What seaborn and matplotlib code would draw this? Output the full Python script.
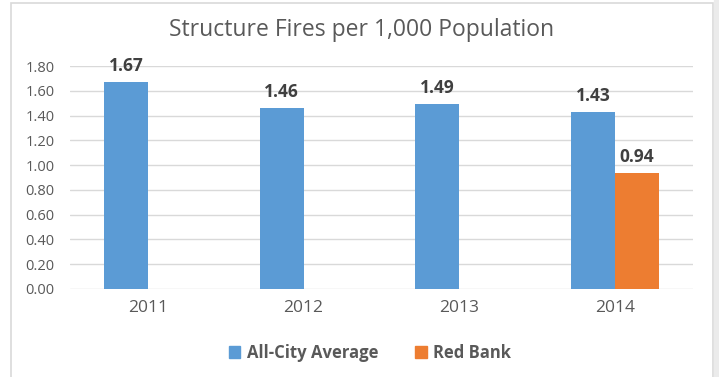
import matplotlib
matplotlib.use('Agg')
import matplotlib.pyplot as plt
import pandas as pd
import seaborn as sns
from matplotlib.patches import Rectangle

years = ['2011', '2012', '2013', '2014']
all_city = [1.67, 1.46, 1.49, 1.43]
red_bank = [None, None, None, 0.94]
series = ['All-City Average', 'Red Bank']
colors = ['#5B9BD5', '#ED7D31']

rows = []
for i, y in enumerate(years):
    rows.append({'year': y, 'series': series[0], 'value': all_city[i]})
    if red_bank[i] is not None:
        rows.append({'year': y, 'series': series[1], 'value': red_bank[i]})
df = pd.DataFrame(rows)

sns.set_style('white')
plt.rcParams['font.family'] = ['Open Sans', 'DejaVu Sans']

fig = plt.figure(figsize=(7.19, 3.77), dpi=100)
# chart frame
fig.patches.append(Rectangle((11 / 719, -0.05), 702 / 719, 1 - 3 / 377 + 0.05,
                             transform=fig.transFigure, fill=False,
                             edgecolor='#D9D9D9', linewidth=1.2))
fig.patches.append(Rectangle((714 / 719, 0), 5 / 719, 1,
                             transform=fig.transFigure, color='#EBEBEB'))

ax = fig.add_axes([70 / 719, 1 - 289 / 377, 623 / 719, 223 / 377])
sns.barplot(data=df, x='year', y='value', hue='series', order=years,
            hue_order=series, palette=colors, width=0.565, dodge=True,
            saturation=1, linewidth=0, ax=ax, legend=False)

ax.set_ylim(0, 1.8)
ax.set_yticks([i * 0.2 for i in range(10)])
ax.set_yticklabels([f'{i * 0.2:.2f}' for i in range(10)])
ax.yaxis.grid(True, color='#D9D9D9', linewidth=1)
ax.set_axisbelow(True)
for s in ax.spines.values():
    s.set_visible(False)
ax.tick_params(axis='y', labelsize=10.5, labelcolor='#595959', length=0, pad=11)
ax.tick_params(axis='x', labelsize=12.5, labelcolor='#595959', length=0, pad=8)
ax.set_xlabel('')
ax.set_ylabel('')

for cont in ax.containers:
    for bar in cont:
        h = bar.get_height()
        if h and h > 0:
            ax.annotate(f'{h:.2f}', (bar.get_x() + bar.get_width() / 2, h),
                        xytext=(0, 5), textcoords='offset points',
                        ha='center', va='bottom', fontsize=12.5,
                        fontweight='bold', color='#404040', clip_on=False)

fig.text(362 / 719, 1 - 30 / 377, 'Structure Fires per 1,000 Population',
         ha='center', va='center', fontsize=16.5, color='#595959')

handles = [Rectangle((0, 0), 1, 1, color=c) for c in colors]
fig.legend(handles, series, loc='center', bbox_to_anchor=(370 / 719, 1 - 353 / 377),
           ncol=2, frameon=False, handlelength=0.7, handleheight=0.7,
           handletextpad=0.4, columnspacing=2.2,
           prop={'size': 12, 'weight': 'bold'}, labelcolor='#595959')

fig.savefig('out.png', dpi=100)
